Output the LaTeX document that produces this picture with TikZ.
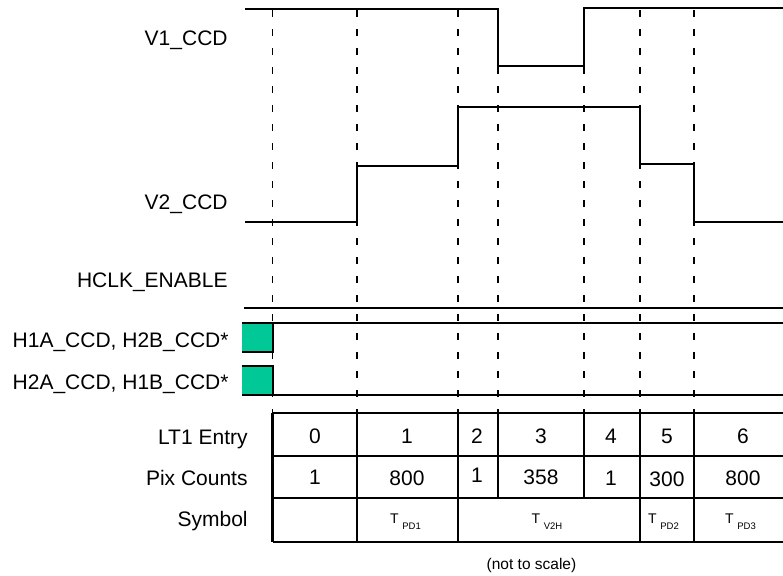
\documentclass[tikz,border=0pt]{standalone}
\usepackage{fontspec}
\setmainfont{Liberation Sans}
\definecolor{hgreen}{RGB}{0,200,150}
\newcommand{\tsub}[1]{T\hspace{1.8pt}\raisebox{-3pt}{\fontsize{4.75}{5}\selectfont #1}}
\tikzset{
  siglabel/.style={anchor=base east, inner sep=0pt, font=\fontsize{10.5}{12}\selectfont},
  cell/.style={anchor=base, inner sep=0pt, font=\fontsize{10.5}{12}\selectfont},
  symcell/.style={anchor=base, inner sep=0pt, font=\fontsize{7}{8}\selectfont},
  wave/.style={line width=1pt},
  guide/.style={line width=0.9pt, dash pattern=on 3.5pt off 6pt},
  tab/.style={line width=1.1pt}
}
\begin{document}
\begin{tikzpicture}[x=0.5pt,y=-0.5pt]
  \useasboundingbox (0,0) rectangle (783,575);
  % guide lines
  \foreach \gx in {272.5,357.3,457.7,498.3,584.3,639.7,693.7}
    \draw[guide] (\gx,10) -- (\gx,413);
  % signal names
  \node[siglabel] (v1lbl) at (228,45) {V1\_CCD};
  \node[siglabel] (v2lbl) at (228,209) {V2\_CCD};
  \node[siglabel] (hclklbl) at (228,287) {HCLK\_ENABLE};
  \node[siglabel] (h1lbl) at (229,347.7) {H1A\_CCD, H2B\_CCD*};
  \node[siglabel] (h2lbl) at (229,389) {H2A\_CCD, H1B\_CCD*};
  % waveforms
  \draw[wave] (245,8.5) -- (498.3,8.5) -- (498.3,66) -- (584.3,66) -- (584.3,7.5) -- (783,7.5);
  \draw[wave] (245,222) -- (357.3,222) -- (357.3,166) -- (457.7,166) -- (457.7,107)
    -- (639.7,107) -- (639.7,164) -- (693.7,164) -- (693.7,222) -- (783,222);
  \draw[wave] (244,307.7) -- (783,307.7);
  \fill[hgreen] (242,323.3) rectangle (272.5,352);
  \draw[wave] (783,323.3) -- (242,323.3);
  \draw[wave] (242,352) -- (272.5,352) -- (272.5,323.3);
  \fill[hgreen] (242,366) rectangle (272.5,395);
  \draw[wave] (242,366) -- (272.5,366) -- (272.5,395);
  \draw[wave] (242,395) -- (783,395);
  % table
  \foreach \ty in {413.3,455.7,498.3,542.3}
    \draw[tab] (272.5,\ty) -- (783,\ty);
  \foreach \tx in {272.5,357.3,457.7,639.7,693.7}
    \draw[tab] (\tx,413.3) -- (\tx,542.3);
  \foreach \tx in {498.3,584.3}
    \draw[tab] (\tx,413.3) -- (\tx,498.3);
  \node[siglabel] (entrylbl) at (248,444) {LT1 Entry};
  \node[siglabel] (pixlbl) at (248,485) {Pix Counts};
  \node[siglabel] (symlbl) at (248,526) {Symbol};
  \foreach \cx/\ct [count=\ci] in {315/0,407/1,477/2,541/3,611/4,667/5,743/6}
    \node[cell] (entry\ci) at (\cx,443.5) {\ct};
  \node[cell] (pix1) at (315,484) {1};
  \node[cell] (pix2) at (407,485) {800};
  \node[cell] (pix3) at (477,482.7) {1};
  \node[cell] (pix4) at (541,484) {358};
  \node[cell] (pix5) at (611,485) {1};
  \node[cell] (pix6) at (667,486) {300};
  \node[cell] (pix7) at (743,485) {800};
  \node[symcell] (sym1) at (405.5,523.3) {\tsub{PD1}};
  \node[symcell] (sym2) at (547,523.3) {\tsub{V2H}};
  \node[symcell] (sym3) at (663.5,523.3) {\tsub{PD2}};
  \node[symcell] (sym4) at (740.5,523.3) {\tsub{PD3}};
  \node[anchor=base, inner sep=0pt, font=\fontsize{7.75}{9}\selectfont] (note) at (531.5,569) {(not to scale)};
\end{tikzpicture}
\end{document}
